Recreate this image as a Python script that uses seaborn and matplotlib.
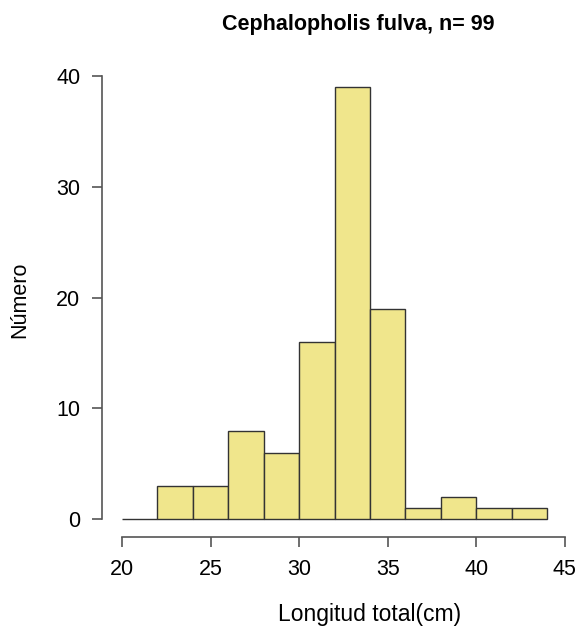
import numpy as np
import pandas as pd
import matplotlib
matplotlib.use('Agg')
import matplotlib.pyplot as plt
import seaborn as sns

# histogram counts (bins of 2 cm)
bin_edges = [20, 22, 24, 26, 28, 30, 32, 34, 36, 38, 40, 42, 44]
counts = [0, 3, 3, 8, 6, 16, 39, 19, 1, 2, 1, 1]
x_ticks = [20, 25, 30, 35, 40, 45]
y_ticks = [0, 10, 20, 30, 40]

centers = [(a + b) / 2 for a, b in zip(bin_edges[:-1], bin_edges[1:])]
histDF = pd.DataFrame({'len': centers, 'n': counts})

sns.set_style('white')
plt.rcParams['font.family'] = ['Liberation Sans', 'DejaVu Sans']

fig = plt.figure(figsize=(5.79, 6.33), dpi=100)
ax = fig.add_axes([0.177, 0.152, 0.817, 0.745])

sns.histplot(data=histDF, x='len', weights='n', bins=bin_edges, ax=ax,
             color='#F0E68C', alpha=1, edgecolor='#333333', linewidth=1)

ax.set_xlim(18.9, 45.6)
ax.set_ylim(-1.6, 41)
ax.set_xticks(x_ticks)
ax.set_yticks(y_ticks)
ax.set_xlabel('')
ax.set_ylabel('')

for side in ['top', 'right']:
    ax.spines[side].set_visible(False)
ax.spines['left'].set_bounds(0, 40)
ax.spines['bottom'].set_bounds(20, 45)
for side in ['left', 'bottom']:
    ax.spines[side].set_color('#555555')
    ax.spines[side].set_linewidth(1.2)
ax.tick_params(axis='both', bottom=True, left=True, direction='out', length=7,
               width=1.2, color='#555555', labelsize=15.5, labelcolor='black', pad=9)

fig.text(0.618, 0.961, 'Cephalopholis fulva, n= 99', ha='center', va='center',
         fontsize=15.5, fontweight='bold', color='black')
fig.text(0.639, 0.029, 'Longitud total(cm)', ha='center', va='center', fontsize=16.5,
         color='black')
fig.text(0.034, 0.526, 'Número', ha='center', va='center', fontsize=15.5, rotation=90,
         color='black')

fig.savefig('out.png', dpi=100)
